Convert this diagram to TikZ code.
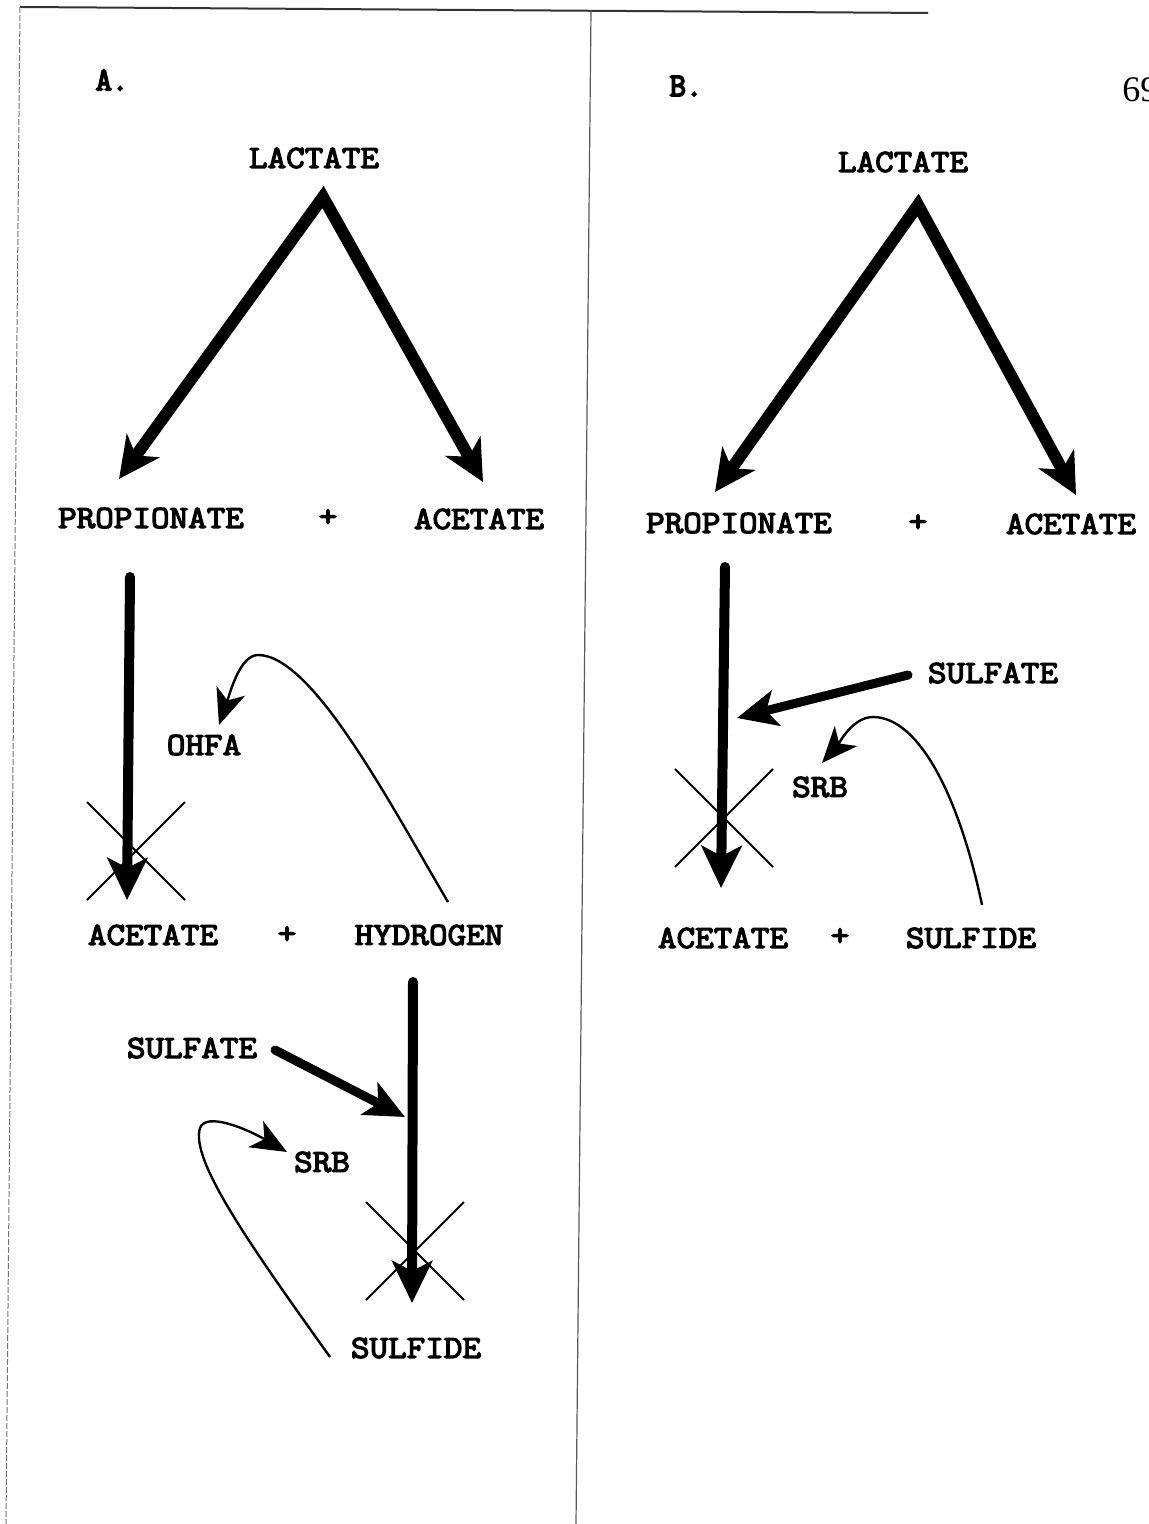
\documentclass[tikz,border=0pt]{standalone}
\usepackage{fontspec}
\newfontfamily\chemfont{Latin Modern Mono}[FakeBold=4,FakeStretch=1.12]
\newfontfamily\panelfont{Latin Modern Mono}[FakeBold=5,FakeStretch=0.96]
\newfontfamily\folio{Liberation Serif}
\usetikzlibrary{arrows.meta,shapes.misc}

\begin{document}
\begin{tikzpicture}[x=0.5pt,y=-0.5pt,
  every node/.style={inner sep=0pt,font=\chemfont\fontsize{16.1}{18}\selectfont},
  fat/.style={line width=6pt,line join=miter,{Stealth[length=20.5pt,width=20pt,inset=6pt]}-{Stealth[length=20.5pt,width=20pt,inset=6pt]}},
  shaft/.style={line width=5pt,line cap=round,-{Stealth[length=21pt,width=20pt,inset=5pt]}},
  feed/.style={line width=4.5pt,line cap=round,-{Stealth[length=20pt,width=18pt,inset=5pt]}},
  curl/.style={line width=1.2pt,-{Stealth[length=18pt,width=15pt,inset=5pt]}},
  blocked/.style={cross out,draw,line width=1pt,minimum width=48pt,minimum height=48pt},
  panel/.style={font=\panelfont\fontsize{16.5}{18}\selectfont}]
  \useasboundingbox (0,0) rectangle (1148,1524);

  % page frame
  \draw[black!80,line width=1pt] (20,7) -- (928,13);
  \draw[black!55,line width=0.5pt,dash pattern=on 3pt off 1pt] (20,7) -- (6,1524);
  \draw[black!65,line width=0.6pt] (591,10) -- (576,1524);
  \node[font=\folio\fontsize{18}{20}\selectfont,anchor=west] (folio) at (1122,90) {69};

  % panel A
  \node[panel] (labA) at (112,80) {A.};
  \node (lacA) at (314,158) {LACTATE};
  \node (propA) at (151,518) {PROPIONATE};
  \node (plusA1) at (328,518) {+};
  \node (aceA1) at (479,519) {ACETATE};
  \node (ohfa) at (204,745) {OHFA};
  \node (aceA2) at (153,935) {ACETATE};
  \node (plusA2) at (287,935) {+};
  \node (hydA) at (429,935) {HYDROGEN};
  \node (sulfA) at (192,1048) {SULFATE};
  \node (srbA) at (322,1162) {SRB};
  \node (sidA) at (416,1348) {SULFIDE};
  \node[blocked] (xA1) at (136,851) {};
  \node[blocked] (xA2) at (415,1251) {};

  \coordinate (apexA) at (323,197);
  \coordinate (tipA1) at (119,479);
  \coordinate (tipA2) at (483,482);
  \coordinate (topA1) at (130,577);
  \coordinate (endA1) at (127,900);
  \coordinate (topA2) at (413,982);
  \coordinate (endA2) at (412,1303);
  \coordinate (inA) at (275,1050);
  \coordinate (hitA) at (405,1117);

  \draw[fat] (tipA1) -- (apexA) -- (tipA2);
  \draw[curl] (448,902) .. controls (388,800) and (312,655) .. (258,655)
    .. controls (240,655) and (230,693) .. (219,725);
  \draw[curl] (330,1357) .. controls (250,1245) and (190,1160) .. (200,1128)
    .. controls (206,1112) and (245,1128) .. (287,1152);

  % panel B
  \node[panel] (labB) at (686,86) {B.};
  \node (lacB) at (903,162) {LACTATE};
  \node (propB) at (739,523) {PROPIONATE};
  \node (plusB1) at (918,523) {+};
  \node (aceB1) at (1071,524) {ACETATE};
  \node (sulfB) at (993,673) {SULFATE};
  \node (srbB) at (820,787) {SRB};
  \node (aceB2) at (723,938) {ACETATE};
  \node (plusB2) at (840,937) {+};
  \node (sidB) at (971,938) {SULFIDE};
  \node[blocked] (xB) at (724,818) {};

  \coordinate (apexB) at (918,205);
  \coordinate (tipB1) at (715,492);
  \coordinate (tipB2) at (1076,495);
  \coordinate (topB) at (725,567);
  \coordinate (endB) at (721,888);
  \coordinate (inB) at (908,675);
  \coordinate (hitB) at (737,718);

  \draw[fat] (tipB1) -- (apexB) -- (tipB2);
  \draw[curl] (982,905) .. controls (960,800) and (920,717) .. (873,717)
    .. controls (852,717) and (838,745) .. (822,763);

  \foreach \from/\to in {topA1/endA1,topA2/endA2,topB/endB}
    \draw[shaft] (\from) -- (\to);
  \foreach \from/\to in {inA/hitA,inB/hitB}
    \draw[feed] (\from) -- (\to);
\end{tikzpicture}
\end{document}
